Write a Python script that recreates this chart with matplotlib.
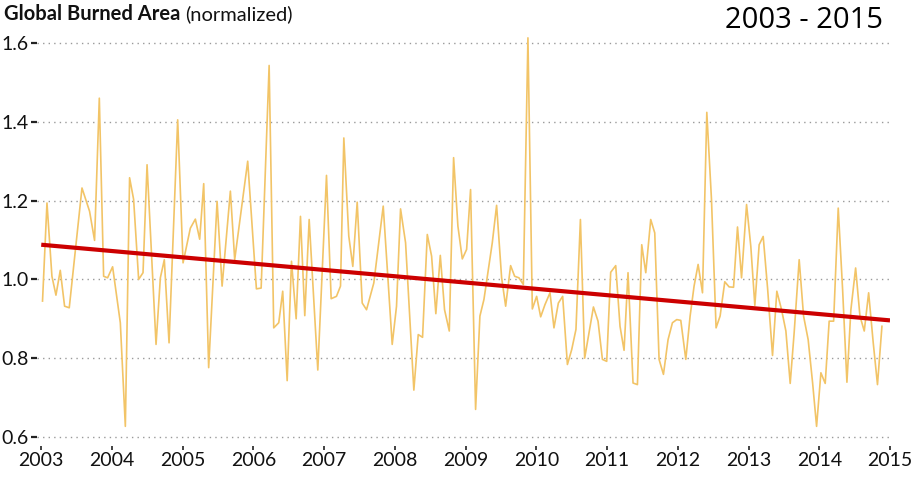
import numpy as np
import matplotlib
matplotlib.use("Agg")
import matplotlib.pyplot as plt

# ---- data ----
years_since_2003 = [
    0.018, 0.081, 0.151, 0.208, 0.269, 0.330, 0.396, 0.576, 0.683, 0.754,
    0.821, 0.882, 0.938, 1.009, 1.118, 1.189, 1.249, 1.306, 1.377, 1.439,
    1.496, 1.623, 1.684, 1.740, 1.807, 1.929, 2.005, 2.108, 2.179, 2.240,
    2.297, 2.367, 2.486, 2.557, 2.674, 2.735, 2.919, 3.042, 3.109, 3.222,
    3.287, 3.358, 3.414, 3.477, 3.538, 3.604, 3.665, 3.726, 3.788, 3.910,
    4.033, 4.099, 4.174, 4.231, 4.278, 4.348, 4.405, 4.467, 4.538, 4.599,
    4.702, 4.835, 4.962, 5.023, 5.080, 5.151, 5.268, 5.330, 5.391, 5.458,
    5.519, 5.579, 5.642, 5.702, 5.769, 5.830, 5.891, 5.953, 6.014, 6.070,
    6.141, 6.202, 6.259, 6.377, 6.438, 6.509, 6.566, 6.636, 6.693, 6.754,
    6.816, 6.881, 6.943, 7.004, 7.061, 7.122, 7.193, 7.249, 7.311, 7.372,
    7.439, 7.500, 7.560, 7.623, 7.683, 7.807, 7.872, 7.934, 7.995, 8.051,
    8.122, 8.183, 8.240, 8.296, 8.367, 8.429, 8.490, 8.547, 8.617, 8.674,
    8.735, 8.797, 8.862, 8.924, 8.985, 9.042, 9.113, 9.174, 9.230, 9.287,
    9.349, 9.410, 9.476, 9.541, 9.598, 9.664, 9.725, 9.788, 9.844, 9.901,
    9.972, 10.032, 10.089, 10.150, 10.207, 10.269, 10.339, 10.400, 10.467, 10.528,
    10.589, 10.645, 10.716, 10.778, 10.843, 10.906, 10.962, 11.023, 11.084, 11.140,
    11.203, 11.268, 11.330, 11.391, 11.447, 11.514, 11.575, 11.636, 11.698, 11.763,
    11.823, 11.886,
]
burned_area = [
    0.945, 1.194, 1.008, 0.960, 1.023, 0.932, 0.928, 1.232, 1.173, 1.099,
    1.460, 1.008, 1.004, 1.032, 0.890, 0.627, 1.258, 1.203, 1.000, 1.017,
    1.291, 0.835, 1.004, 1.050, 0.839, 1.405, 1.042, 1.130, 1.153, 1.102,
    1.243, 0.776, 1.198, 0.983, 1.224, 1.050, 1.300, 0.976, 0.978, 1.543,
    0.877, 0.890, 0.970, 0.743, 1.046, 0.900, 1.160, 0.908, 1.152, 0.770,
    1.264, 0.951, 0.957, 0.983, 1.359, 1.110, 1.033, 1.196, 0.940, 0.923,
    0.991, 1.186, 0.835, 0.932, 1.179, 1.093, 0.719, 0.860, 0.853, 1.114,
    1.059, 0.913, 1.061, 0.923, 0.869, 1.309, 1.135, 1.052, 1.076, 1.228,
    0.670, 0.907, 0.949, 1.093, 1.188, 1.004, 0.932, 1.035, 1.008, 1.004,
    0.987, 1.613, 0.925, 0.957, 0.905, 0.936, 0.966, 0.877, 0.940, 0.957,
    0.784, 0.822, 0.873, 1.152, 0.800, 0.930, 0.894, 0.797, 0.792, 1.018,
    1.035, 0.881, 0.820, 1.017, 0.737, 0.733, 1.088, 1.017, 1.152, 1.118,
    0.797, 0.759, 0.847, 0.890, 0.898, 0.896, 0.797, 0.907, 0.983, 1.038,
    0.966, 1.424, 1.203, 0.877, 0.907, 0.994, 0.981, 0.980, 1.133, 1.004,
    1.190, 1.084, 0.934, 1.088, 1.109, 0.978, 0.807, 0.970, 0.923, 0.869,
    0.736, 0.865, 1.050, 0.907, 0.847, 0.737, 0.627, 0.763, 0.736, 0.894,
    0.894, 1.181, 0.974, 0.739, 0.923, 1.029, 0.907, 0.869, 0.966, 0.839,
    0.733, 0.881,
]
trend_years = [2003, 2015]
trend_values = [1.088, 0.896]
year_ticks = list(range(2003, 2016))
value_ticks = [0.6, 0.8, 1.0, 1.2, 1.4, 1.6]
value_labels = ["0.6", "0.8", "1.0", "1.2", "1.4", "1.6"]

years = 2003 + np.array(years_since_2003)

plt.rcParams['font.family'] = ['Lato', 'DejaVu Sans']

fig = plt.figure(figsize=(9.15, 4.79), dpi=100)
ax = fig.add_axes([37/915, 1 - 446/479, (890 - 37)/915, (446 - 35)/479])

ax.plot(years, burned_area, color='#F2C467', lw=1.2, solid_joinstyle='round', zorder=2)
ax.plot(trend_years, trend_values, color='#CC0000', lw=3.0, solid_capstyle='butt', zorder=3)

ax.set_xlim(2002.94, 2015.0)
ax.set_ylim(0.6 - 9/394, 1.6 + 8/394)

ax.set_yticks(value_ticks)
ax.set_yticklabels(value_labels)
ax.set_xticks(year_ticks)
ax.set_xticklabels([str(y) for y in year_ticks])

for s in ax.spines.values():
    s.set_visible(False)

ax.yaxis.grid(True, linestyle=(0, (1, 3)), color='#9a9a9a', lw=1.0)
ax.xaxis.grid(False)
ax.set_axisbelow(True)

ax.tick_params(axis='y', direction='out', length=4, width=1.6, color='#222222',
               labelsize=14, pad=2, labelcolor='#111111')
ax.tick_params(axis='x', direction='out', length=3, width=1.2, color='#222222',
               labelsize=14, pad=1.5, labelcolor='#111111')

t1 = fig.text(4/915, 1 - 14/479, "Global Burned Area", fontsize=14.5, fontweight='bold',
              ha='left', va='center', color='#111111')
fig.canvas.draw()
bb = t1.get_window_extent(renderer=fig.canvas.get_renderer())
fig.text((bb.x1 + 5) / 915, 1 - 14/479, "(normalized)", fontsize=14.5,
         ha='left', va='center', color='#111111')
fig.text(883/915, 1 - 20/479, "2003 - 2015", fontsize=21, family=['Open Sans', 'DejaVu Sans'],
         ha='right', va='center', color='#000000')

fig.savefig("out.png", dpi=100)
